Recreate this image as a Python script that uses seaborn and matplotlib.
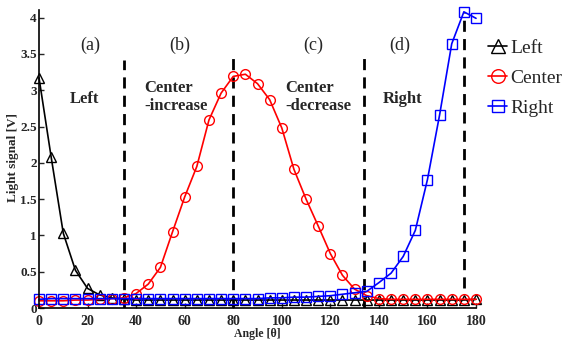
import matplotlib
matplotlib.use("Agg")
import matplotlib.pyplot as plt
import pandas as pd
import seaborn as sns

# Rotation angle of the sensor head (degrees)
angle = [0, 5, 10, 15, 20, 25, 30, 35, 40, 45, 50, 55, 60, 65, 70, 75, 80, 85, 90,
         95, 100, 105, 110, 115, 120, 125, 130, 135, 140, 145, 150, 155, 160, 165,
         170, 175, 180]

# Light signal [V] measured by each photodetector
left = [3.17, 2.08, 1.03, 0.52, 0.27, 0.18, 0.14, 0.12, 0.11, 0.11, 0.11, 0.11, 0.11,
        0.11, 0.11, 0.11, 0.11, 0.11, 0.11, 0.11, 0.11, 0.11, 0.11, 0.11, 0.11, 0.11,
        0.11, 0.11, 0.11, 0.11, 0.11, 0.11, 0.11, 0.11, 0.11, 0.11, 0.12]
center = [0.10, 0.10, 0.10, 0.11, 0.11, 0.12, 0.13, 0.14, 0.20, 0.33, 0.56, 1.05, 1.53,
          1.95, 2.59, 2.96, 3.19, 3.22, 3.09, 2.87, 2.48, 1.91, 1.50, 1.13, 0.75, 0.45,
          0.26, 0.17, 0.13, 0.12, 0.12, 0.12, 0.12, 0.12, 0.12, 0.12, 0.12]
right = [0.12, 0.13, 0.13, 0.13, 0.13, 0.13, 0.13, 0.13, 0.13, 0.13, 0.13, 0.13, 0.13,
         0.13, 0.13, 0.13, 0.13, 0.13, 0.13, 0.14, 0.14, 0.15, 0.15, 0.16, 0.17, 0.19,
         0.21, 0.23, 0.35, 0.48, 0.71, 1.07, 1.77, 2.66, 3.64, 4.08, 3.99]

series_names = ["Left", "Center", "Right"]
series_colors = ["black", "#ff0000", "#0000ff"]
series_markers = ["^", "o", "s"]

# Region boundaries (degrees) and region labels
boundaries = [35, 80, 134, 175]
region_tags = ["(a)", "(b)", "(c)", "(d)"]
region_names = ["Left", "Center\n-increase", "Center\n-decrease", "Right"]

x_ticks = [0, 20, 40, 60, 80, 100, 120, 140, 160, 180]
y_ticks = [0, 0.5, 1, 1.5, 2, 2.5, 3, 3.5, 4]
y_tick_labels = ["0", "0.5", "1", "1.5", "2", "2.5", "3", "3.5", "4"]

df = pd.DataFrame({"Angle": angle, "Left": left, "Center": center, "Right": right})

sns.set_style("ticks")
plt.rcParams["font.family"] = ["Liberation Serif", "DejaVu Serif"]

fig = plt.figure(figsize=(5.63, 3.40), dpi=100)
ax = fig.add_axes([0.0693, 0.094, 0.7762, 0.8756])

for name, col, mk in zip(series_names, series_colors, series_markers):
    sns.lineplot(data=df, x="Angle", y=name, ax=ax, color=col, marker=mk,
                 markersize=7 if mk != "s" else 6.5, markerfacecolor="none",
                 markeredgecolor=col, markeredgewidth=1.0, linewidth=1.2,
                 clip_on=False, label=name)

# Dashed region boundaries
seg_top = [3.42, 3.49, 3.53, 4.08]
seg_bottom = [0.0, 0.0, 0.0, 0.28]
for xb, y0, y1 in zip(boundaries, seg_bottom, seg_top):
    ax.plot([xb, xb], [y0, y1], color="black", linewidth=2.0,
            linestyle=(0, (4, 2.6)), zorder=1)

# Region tags and names
tag_x = [21, 58, 113, 148.5]
for tx, tag in zip(tag_x, region_tags):
    ax.text(tx, 3.62, tag, ha="center", va="center", fontsize=13)

name_x = [12.8, 43.2, 101.3, 141.7]
name_y = [2.88, 2.91, 2.91, 2.88]
for nx, ny, nm in zip(name_x, name_y, region_names):
    ax.text(nx, ny, nm, ha="left", va="center", fontsize=12,
            fontweight="bold", linespacing=1.2)

ax.set_xlim(0, 180)
ax.set_ylim(0, 4.1)
ax.set_xticks(x_ticks)
ax.set_yticks(y_ticks)
ax.set_yticklabels(y_tick_labels)
ax.tick_params(direction="in", length=3.5, width=1.0)
ax.tick_params(axis="x", labelsize=10, pad=5)
ax.tick_params(axis="y", labelsize=9.5, pad=1.5)
for lab in ax.get_xticklabels() + ax.get_yticklabels():
    lab.set_fontweight("bold")

ax.set_xlabel("Angle [θ]", fontsize=8.5, fontweight="bold")
ax.xaxis.set_label_coords(0.5, -0.067)
ax.set_ylabel("Light signal [V]", fontsize=9.5, fontweight="bold")
ax.yaxis.set_label_coords(-0.045, 0.507)

for side in ["top", "right"]:
    ax.spines[side].set_visible(False)
for side in ["left", "bottom"]:
    ax.spines[side].set_color("black")
    ax.spines[side].set_linewidth(1.2)

ax.legend(loc="upper left", bbox_to_anchor=(488 / 563, 1 - 39 / 340),
          bbox_transform=fig.transFigure, frameon=False, fontsize=14,
          handlelength=1.0, handletextpad=0.15, labelspacing=0.65,
          markerscale=1.4, borderpad=0, borderaxespad=0)

fig.savefig("out.png", dpi=100)
